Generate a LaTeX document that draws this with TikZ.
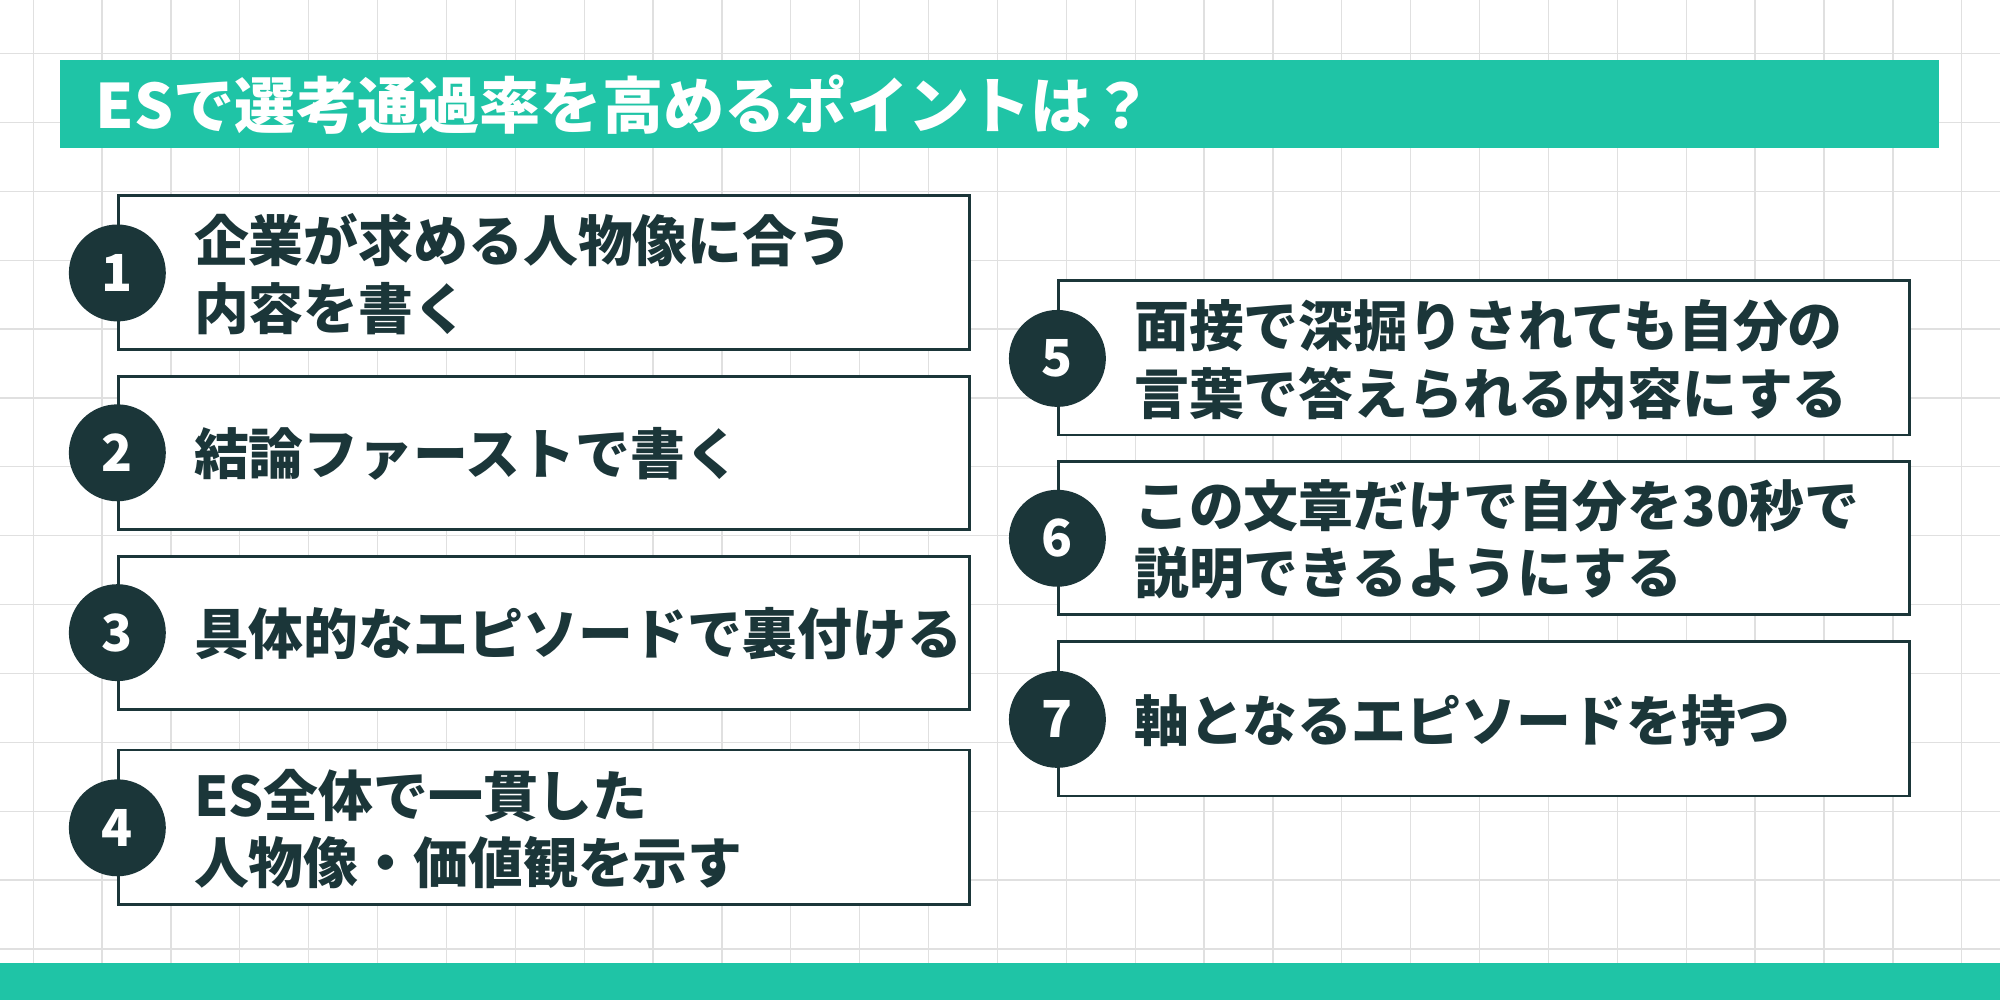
\documentclass[tikz,border=0pt]{standalone}
\usepackage{fontspec}
\setmainfont{Noto Sans CJK JP}
\definecolor{teal}{HTML}{1FC4A6}
\definecolor{dark}{HTML}{1B3639}
\begin{document}
\begin{tikzpicture}[x=1pt,y=-1pt,
  box/.style={draw=dark,line width=2.2pt,fill=white},
  num/.style={circle,fill=dark,minimum size=76pt,inner sep=0pt,text=white,font=\bfseries\fontsize{40}{40}\selectfont},
  lbl/.style={anchor=west,align=left,text=dark,font=\bfseries\fontsize{43}{53}\selectfont,inner sep=0pt}]
\useasboundingbox (0,0) rectangle (1568,784);
\fill[white] (0,0) rectangle (1568,784);
\foreach \x in {26,80,...,1568} \draw[black!12,line width=1pt] (\x,0) -- (\x,784);
\foreach \y in {42,96,...,784} \draw[black!12,line width=1pt] (0,\y) -- (1568,\y);
\fill[teal] (47,47) rectangle (1520,116);
\node[anchor=west,text=white,font=\bfseries\fontsize{48}{50}\selectfont,inner sep=0pt] (title) at (75,82) {ESで選考通過率を高めるポイントは？};
\fill[teal] (0,755) rectangle (1568,784);
\draw[box] (93,153) rectangle (760,274);
\draw[box] (93,295) rectangle (760,415);
\draw[box] (93,436) rectangle (760,556);
\draw[box] (93,588) rectangle (760,709);
\draw[box] (830,220) rectangle (1497,341);
\draw[box] (830,362) rectangle (1497,482);
\draw[box] (830,503) rectangle (1497,624);
\node[num] (n1) at (92,214) {1};
\node[num] (n2) at (92,355) {2};
\node[num] (n3) at (92,496) {3};
\node[num] (n4) at (92,649) {4};
\node[num] (n5) at (829,281) {5};
\node[num] (n6) at (829,422) {6};
\node[num] (n7) at (829,564) {7};
\node[lbl] (t1) at (152,215) {企業が求める人物像に合う\\内容を書く};
\node[lbl] (t2) at (152,356) {結論ファーストで書く};
\node[lbl] (t3) at (152,497) {具体的なエピソードで裏付ける};
\node[lbl] (t4) at (152,650) {ES全体で一貫した\\人物像・価値観を示す};
\node[lbl] (t5) at (889,282) {面接で深掘りされても自分の\\言葉で答えられる内容にする};
\node[lbl] (t6) at (889,423) {この文章だけで自分を30秒で\\説明できるようにする};
\node[lbl] (t7) at (889,565) {軸となるエピソードを持つ};
\end{tikzpicture}
\end{document}
